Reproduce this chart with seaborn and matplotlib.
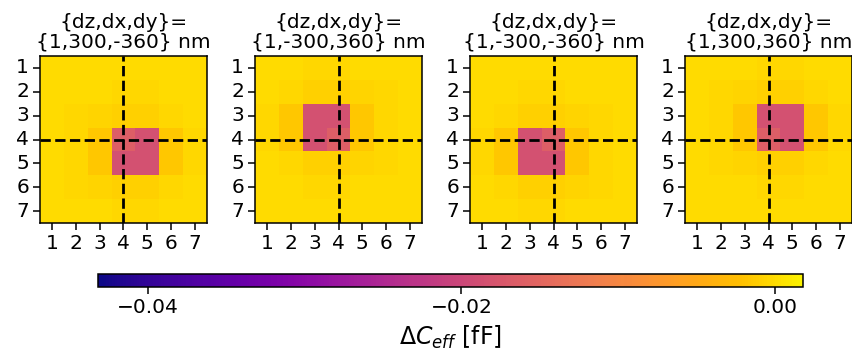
import numpy as np
import matplotlib
matplotlib.use("Agg")
import matplotlib.pyplot as plt
import matplotlib.colors as mcolors
import seaborn as sns

sns.set_style("ticks")
plt.rcParams['font.family'] = ['DejaVu Sans']
plt.rcParams['text.color'] = 'black'
plt.rcParams['xtick.color'] = 'black'
plt.rcParams['ytick.color'] = 'black'
plt.rcParams['axes.labelcolor'] = 'black'

# ---- data ----
ticks = [1, 2, 3, 4, 5, 6, 7]
titles = ["{dz,dx,dy}=\n{1,300,-360} nm",
          "{dz,dx,dy}=\n{1,-300,360} nm",
          "{dz,dx,dy}=\n{1,-300,-360} nm",
          "{dz,dx,dy}=\n{1,300,360} nm"]
center = 4

panel1 = [
    [0, 0, 0, 0, 0, 0, 0],
    [0, 0, 0, -0.0004, -0.0004, 0, 0],
    [0, -0.0004, -0.0006, -0.0009, -0.0009, -0.0004, 0],
    [0, -0.0004, -0.0016, -0.0163, -0.0185, -0.0016, -0.0004],
    [0, -0.0004, -0.0016, -0.0185, -0.0185, -0.0016, -0.0004],
    [0, -0.0004, -0.0006, -0.0009, -0.0009, -0.0004, 0],
    [0, 0, 0, -0.0004, -0.0004, 0, 0],
]
panel2 = [
    [0, 0, -0.0004, -0.0004, 0, 0, 0],
    [0, -0.0004, -0.0009, -0.0009, -0.0006, -0.0004, 0],
    [-0.0004, -0.0016, -0.0185, -0.0185, -0.0016, -0.0004, 0],
    [-0.0004, -0.0016, -0.0185, -0.0163, -0.0016, -0.0004, 0],
    [0, -0.0004, -0.0009, -0.0009, -0.0006, -0.0004, 0],
    [0, 0, -0.0004, -0.0004, 0, 0, 0],
    [0, 0, 0, 0, 0, 0, 0],
]
panel3 = [
    [0, 0, 0, 0, 0, 0, 0],
    [0, 0, -0.0004, -0.0004, 0, 0, 0],
    [0, -0.0004, -0.0009, -0.0009, -0.0006, -0.0004, 0],
    [-0.0004, -0.0016, -0.0185, -0.0163, -0.0016, -0.0004, 0],
    [-0.0004, -0.0016, -0.0185, -0.0185, -0.0016, -0.0004, 0],
    [0, -0.0004, -0.0009, -0.0009, -0.0006, -0.0004, 0],
    [0, 0, -0.0004, -0.0004, 0, 0, 0],
]
panel4 = [
    [0, 0, 0, -0.0004, -0.0004, 0, 0],
    [0, -0.0004, -0.0006, -0.0009, -0.0009, -0.0004, 0],
    [0, -0.0004, -0.0016, -0.0185, -0.0185, -0.0016, -0.0004],
    [0, -0.0004, -0.0016, -0.0163, -0.0185, -0.0016, -0.0004],
    [0, -0.0004, -0.0006, -0.0009, -0.0009, -0.0004, 0],
    [0, 0, 0, -0.0004, -0.0004, 0, 0],
    [0, 0, 0, 0, 0, 0, 0],
]
panels = [panel1, panel2, panel3, panel4]
vmin, vmax = -0.0432, 0.0018
cbar_ticks = [-0.04, -0.02, 0.00]
cbar_ticklabels = ["\u22120.04", "\u22120.02", "0.00"]

# plasma, rendered warmer/more saturated at the top like the reference
t = np.linspace(0, 1, 256)
base = plt.get_cmap("plasma")(np.linspace(0, 0.97, 256))[:, :3]
hsv = mcolors.rgb_to_hsv(base)
w = np.clip((t - 0.7) / 0.3, 0, 1)
hsv[:, 1] = np.clip(hsv[:, 1] * (1 + 0.25 * w), 0, 1)
hsv[:, 2] = np.clip(hsv[:, 2] * (1 + 0.03 * w), 0, 1)
cmap = mcolors.ListedColormap(mcolors.hsv_to_rgb(hsv))

# ---- figure ----
W, H = 852, 356
fig = plt.figure(figsize=(W / 100, H / 100), dpi=100)
fs = 14.5
lefts = [40, 255, 470, 685]
for i, (data, title) in enumerate(zip(panels, titles)):
    ax = fig.add_axes([lefts[i] / W, (H - 223) / H, 167 / W, 167 / H])
    sns.heatmap(np.array(data), ax=ax, cmap=cmap, vmin=vmin, vmax=vmax,
                cbar=False, xticklabels=ticks, yticklabels=ticks, square=False)
    pos = ticks.index(center) + 0.5
    ax.axvline(pos, color="black", ls="--", lw=2)
    ax.axhline(pos, color="black", ls="--", lw=2)
    for s in ax.spines.values():
        s.set_visible(True)
        s.set_linewidth(1.1)
        s.set_color("black")
    ax.tick_params(labelsize=fs, length=5, width=1.1, pad=3, colors="black")
    ax.set_xticklabels(ticks, rotation=0)
    ax.set_yticklabels(ticks, rotation=0)
    ax.set_title(title, fontsize=fs, linespacing=1.05, pad=6, color="black")

cax = fig.add_axes([98 / W, (H - 286.5) / H, 705 / W, 12.5 / H])
sm = matplotlib.cm.ScalarMappable(cmap=cmap, norm=mcolors.Normalize(vmin, vmax))
cb = fig.colorbar(sm, cax=cax, orientation="horizontal")
cb.set_ticks(cbar_ticks)
cb.set_ticklabels(cbar_ticklabels)
cb.ax.tick_params(labelsize=fs, length=5, width=1.1, colors="black")
cb.outline.set_linewidth(1.1)
cb.outline.set_edgecolor("black")
cb.set_label(r"$\Delta C_{eff}$ [fF]", fontsize=17, labelpad=5, color="black")

fig.savefig("out.png", dpi=100)
